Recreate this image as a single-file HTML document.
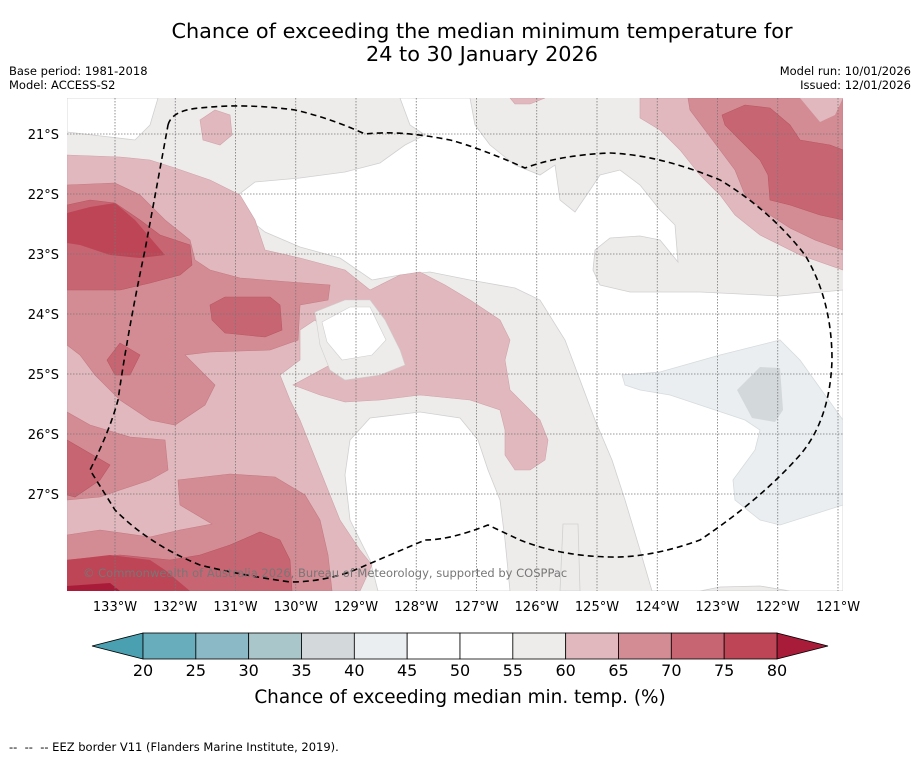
<!DOCTYPE html>
<html><head><meta charset="utf-8"><style>
body{margin:0;background:#fff;width:919px;height:758px;overflow:hidden;font-family:"Liberation Sans","DejaVu Sans",sans-serif;}
svg text{font-family:"DejaVu Sans","Liberation Sans",sans-serif;}
</style></head><body>
<svg id="fig" width="919" height="758" viewBox="0 0 919 758" xmlns="http://www.w3.org/2000/svg">
<text x="482" y="38" font-size="20.8" text-anchor="middle">Chance of exceeding the median minimum temperature for</text>
<text x="482" y="61" font-size="20.8" text-anchor="middle">24 to 30 January 2026</text>
<text x="9" y="75" font-size="11.5">Base period: 1981-2018</text>
<text x="9" y="89" font-size="11.5">Model: ACCESS-S2</text>
<text x="911" y="75" font-size="11.5" text-anchor="end">Model run: 10/01/2026</text>
<text x="911" y="89" font-size="11.5" text-anchor="end">Issued: 12/01/2026</text>
<defs><clipPath id="mc"><rect x="67" y="98" width="776" height="493"/></clipPath></defs>
<g id="map" clip-path="url(#mc)">
<rect x="67" y="98" width="776" height="493" fill="#eeeceb"/>
<g fill="#fff" stroke="#d0d0d0" stroke-width="0.8">
<polygon points="67,98 158,98 150,125 135,140 67,132"/>
<polygon points="400,98 470,98 475,125 490,145 515,165 540,175 555,165 560,200 575,212 590,190 600,175 620,170 640,185 660,210 675,225 678,262 660,240 640,236 610,238 595,250 593,270 600,285 630,292 700,292 780,296 843,290 843,591 652,591 640,550 625,500 612,460 595,420 580,380 565,340 540,300 515,288 470,280 430,272 400,275 372,280 340,258 300,247 265,232 240,212 238,195 255,182 300,178 345,172 380,163 405,145 425,135 410,125"/>
<polygon points="350,440 370,418 420,412 460,418 478,440 488,470 500,500 505,540 510,591 378,591 370,560 350,520 345,475"/>
</g>
<polygon fill="#eeeceb" stroke="#d0d0d0" stroke-width="0.8" points="560,591 563,524 578,524 580,591"/>
<polygon fill="#eeeceb" stroke="#d0d0d0" stroke-width="0.8" points="700,591 720,587 760,586 790,591"/>
<polygon fill="#eaeef1" stroke="#d6dbde" stroke-width="0.8" points="622,375 660,372 720,355 780,340 800,360 825,395 843,420 843,505 780,525 760,520 735,500 733,480 755,450 760,430 745,420 700,405 670,395 640,390 625,385"/>
<polygon fill="#d3d8da" points="737,390 760,367 780,368 783,410 775,422 752,418"/>
<g fill="#e0b8bd" stroke="#cfa3a9" stroke-width="0.6">
<polygon points="67,155 120,157 150,160 175,168 210,180 240,195 255,220 265,250 300,258 345,270 370,290 380,285 400,275 420,272 445,285 470,300 500,320 510,340 505,360 510,390 520,400 540,420 548,440 545,460 530,470 515,470 505,455 505,430 500,410 470,400 420,395 380,400 345,402 320,395 293,385 330,365 355,350 330,335 315,320 300,330 300,360 280,375 290,400 300,420 320,470 340,520 360,550 372,565 360,591 67,591"/>
<polygon points="200,120 215,110 230,115 232,135 220,145 203,140"/>
<polygon points="510,98 545,98 530,104 515,104"/>
<polygon points="640,98 843,98 843,270 800,255 760,235 735,215 720,195 700,175 680,150 660,130 640,118"/>
</g>
<polygon fill="#eeeceb" stroke="#d0d0d0" stroke-width="0.6" points="315,312 345,300 370,300 385,320 400,350 405,365 380,375 345,380 330,370 320,345"/>
<polygon fill="#fff" stroke="#d0d0d0" stroke-width="0.6" points="322,322 350,307 370,307 386,340 372,355 342,360 327,342"/>
<g fill="#d48c94" stroke="#c47a83" stroke-width="0.6">
<polygon points="67,185 115,183 140,195 165,220 190,240 195,260 210,270 240,278 290,282 330,285 328,300 300,305 298,340 270,350 210,352 185,355 215,385 205,405 175,425 150,420 120,400 95,375 80,355 67,345"/>
<polygon points="67,412 90,425 130,437 165,440 168,470 150,480 120,490 100,497 67,500"/>
<polygon points="67,535 100,530 150,537 180,530 212,524 180,505 178,480 230,474 275,477 305,495 320,520 328,555 332,591 67,591"/>
<polygon points="688,98 843,98 843,250 815,240 790,228 770,215 745,195 735,170 720,150 705,130 690,110"/>
</g>
<polygon fill="#e0b8bd" points="800,98 843,98 835,115 820,122"/>
<g fill="#c86572" stroke="#b85863" stroke-width="0.6">
<polygon points="67,205 90,200 115,203 140,220 160,235 190,245 192,265 180,275 150,283 120,290 100,290 67,290"/>
<polygon points="210,305 225,297 270,297 280,305 282,330 265,337 225,333 212,320"/>
<polygon points="107,360 120,343 140,355 130,375 115,375"/>
<polygon points="67,440 110,465 100,480 75,497 67,495"/>
<polygon points="67,560 120,555 170,560 200,555 230,545 260,532 280,540 290,560 292,591 67,591"/>
<polygon points="722,115 745,105 770,108 790,125 800,140 830,145 843,150 843,220 820,215 790,205 770,200 768,175 760,160 740,140 725,125"/>
</g>
<g fill="#bd4555">
<polygon points="67,213 90,207 115,203 135,220 165,255 140,258 110,255 80,245 67,243"/>
<polygon points="67,560 110,555 150,560 165,570 190,591 67,591"/>
</g>
<polygon fill="#a81c3a" points="67,586 110,583 120,591 67,591"/>
<g id="grid" stroke="#777" stroke-width="0.8" stroke-dasharray="1.5,1.5"></g>
<path fill="none" stroke="#000" stroke-width="1.6" stroke-dasharray="6,4" d="M168,125 Q172,110 200,108 Q245,103 295,110 Q330,118 365,134 Q400,130 450,140 Q480,148 525,168 Q560,155 610,153 Q660,155 720,180 Q770,210 805,255 Q832,300 832,360 Q830,420 800,455 Q760,500 700,540 Q650,558 610,557 Q560,556 520,540 L488,525 Q450,540 425,540 Q390,555 350,572 Q320,582 290,582 Q240,575 200,565 Q150,545 115,510 L90,470 Q110,430 118,400 Q128,330 145,250 Q158,180 168,125"/>
<text x="83" y="577" font-size="11.5" fill="#777">© Commonwealth of Australia 2026, Bureau of Meteorology, supported by COSPPac</text>
</g>
<g id="axes"></g>
<g id="cbar"></g>
<text x="460" y="703" font-size="18.4" text-anchor="middle">Chance of exceeding median min. temp. (%)</text>
<text x="9" y="751" font-size="11.5" xml:space="preserve">--  --  -- EEZ border V11 (Flanders Marine Institute, 2019).</text>
</svg>
<script>
const lonLabels=["133°W","132°W","131°W","130°W","129°W","128°W","127°W","126°W","125°W","124°W","123°W","122°W","121°W"];
const lonValues=[-133,-132,-131,-130,-129,-128,-127,-126,-125,-124,-123,-122,-121];
const latLabels=["21°S","22°S","23°S","24°S","25°S","26°S","27°S"];
const latValues=[-21,-22,-23,-24,-25,-26,-27];
const cbarLevels=[20,25,30,35,40,45,50,55,60,65,70,75,80];
const cbarColors=["#68adbc","#8bb9c5","#a9c6cb","#d3d8da","#eaeef1","#ffffff","#ffffff","#eeeceb","#e0b8bd","#d48c94","#c86572","#bd4555"];
const lowColor="#4a9fb0",highColor="#a81c3a";
const NS="http://www.w3.org/2000/svg";
const xLon=v=>115+(v+133)*60.25;
const yLat=v=>134+(-21-v)*60;
const xC=v=>143+(v-20)*(777-143)/60;
function mk(t,a,p){const e=document.createElementNS(NS,t);for(const k in a)e.setAttribute(k,a[k]);p.appendChild(e);return e;}
const grid=document.getElementById('grid'),axes=document.getElementById('axes'),cb=document.getElementById('cbar');
lonValues.forEach((v,i)=>{
 const l=mk('line',{x1:xLon(v),x2:xLon(v),y1:98,y2:591},grid);
 
 
 const t=mk('text',{x:xLon(v),y:611,'font-size':13,'text-anchor':'middle'},axes);
 t.textContent=lonLabels[i];
 
 
});
latValues.forEach((v,i)=>{
 const l=mk('line',{x1:67,x2:843,y1:yLat(v),y2:yLat(v)},grid);
 
 
 const t=mk('text',{x:59,y:yLat(v)+5,'font-size':13,'text-anchor':'end'},axes);
 t.textContent=latLabels[i];
 
 
});
const y0=633,y1=659;
const lo=mk('polygon',{points:`${xC(20)},${y0} ${xC(20)},${y1} ${xC(20)-51},${(y0+y1)/2}`,fill:lowColor,stroke:'#000','stroke-width':0.8},cb);


const hi=mk('polygon',{points:`${xC(80)},${y0} ${xC(80)},${y1} ${xC(80)+51},${(y0+y1)/2}`,fill:highColor,stroke:'#000','stroke-width':0.8},cb);


cbarColors.forEach((c,i)=>{
 const r=mk('rect',{x:xC(cbarLevels[i]),y:y0,width:xC(cbarLevels[i+1])-xC(cbarLevels[i]),height:y1-y0,fill:c,stroke:'#000','stroke-width':0.8},cb);
 
 
});
cbarLevels.forEach(v=>{
 const t=mk('text',{x:xC(v),y:676,'font-size':16,'text-anchor':'middle'},cb);
 t.textContent=v;
 
 
});
</script>
</body></html>
